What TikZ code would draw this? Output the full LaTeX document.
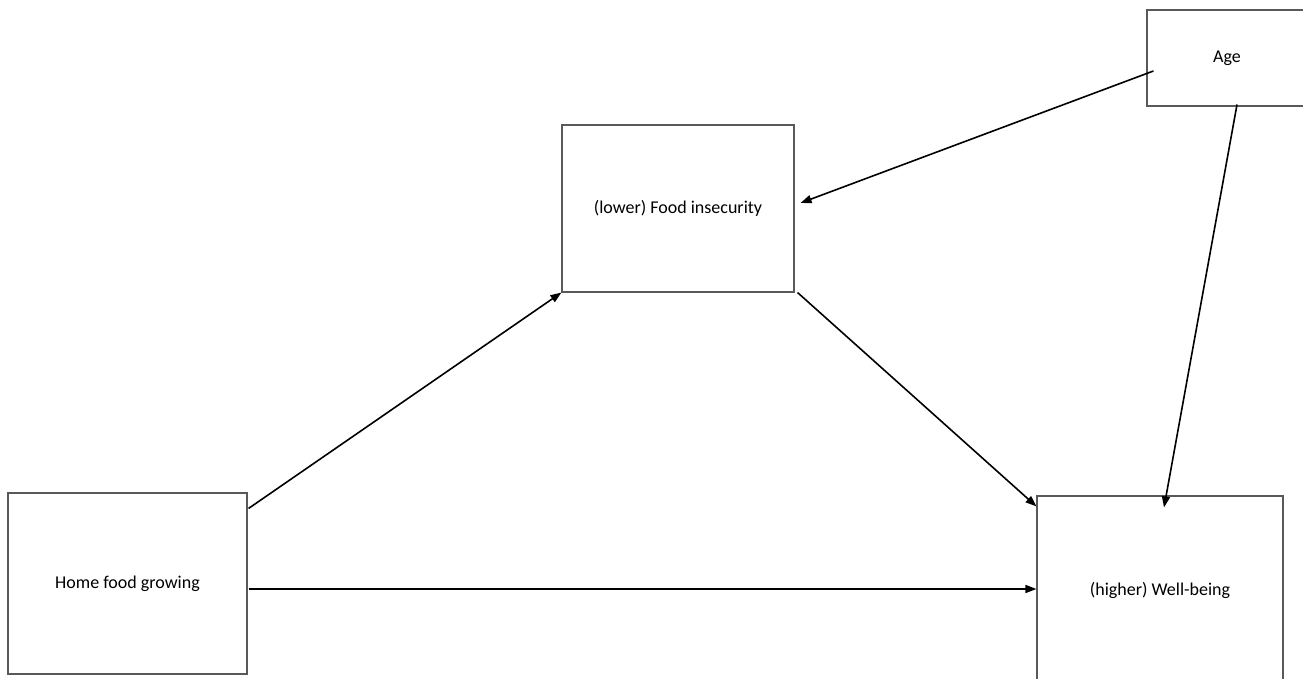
\documentclass[tikz,border=0pt]{standalone}
\usepackage{fontspec}
\setmainfont{Carlito}
\usetikzlibrary{arrows.meta}
\begin{document}
\begin{tikzpicture}[x=1pt,y=1pt,
  box/.style={draw=black!65, line width=1.1pt, rectangle, inner sep=0pt, font=\fontsize{18}{22}\selectfont, text=black},
  arr/.style={draw=black, line width=1.6pt, -{Triangle[length=11pt,width=8pt]}}]
\clip (0,0) rectangle (1303,679);
\fill[white] (0,0) rectangle (1303,679);
\node[box, minimum width=239pt, minimum height=181pt] (home) at (127.5,95.5) {Home food growing};
\node[box, minimum width=232pt, minimum height=167pt] (fi) at (678,470.5) {(lower) Food insecurity};
\node[box, minimum width=246pt, minimum height=188pt] (wb) at (1160,89) {(higher) Well-being};
\node[box, minimum width=160pt, minimum height=96pt] (age) at (1227,621) {Age};
\draw[arr] ([shift={(1pt,-16pt)}]home.north east) -- ([shift={(0pt,0pt)}]fi.south west);
\draw[arr] ([shift={(3pt,0pt)}]fi.south east) -- ([shift={(0pt,-11pt)}]wb.north west);
\draw[arr] ([shift={(1pt,-5.5pt)}]home.east) -- ([yshift=-5.5pt]home.east -| wb.west);
\draw[arr] ([shift={(7pt,-13pt)}]age.west) -- ([shift={(6pt,5.5pt)}]fi.east);
\draw[arr] ([shift={(10pt,2pt)}]age.south) -- ([shift={(4pt,-12pt)}]wb.north);
\end{tikzpicture}
\end{document}
